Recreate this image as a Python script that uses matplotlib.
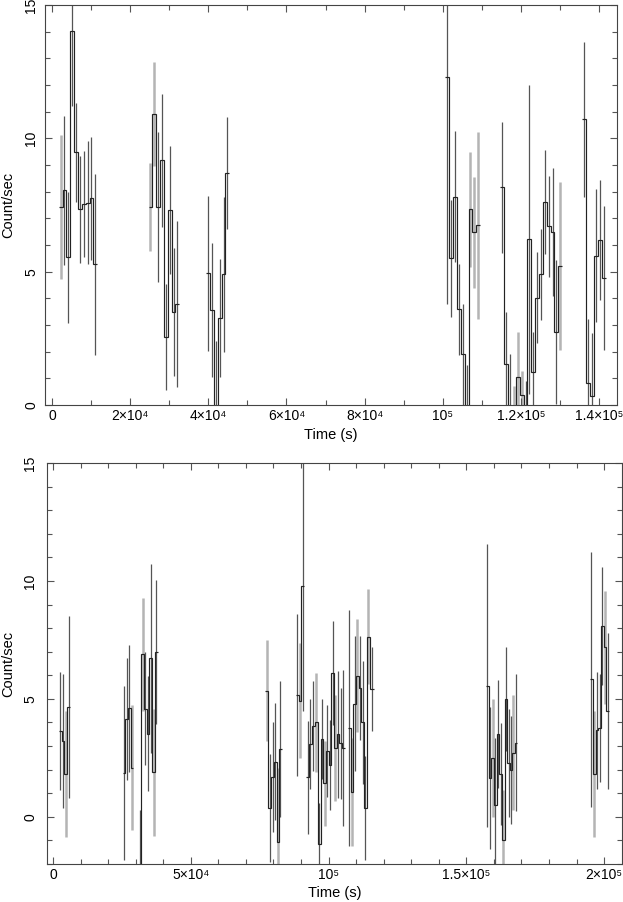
import numpy as np
import matplotlib
matplotlib.use('Agg')
import matplotlib.pyplot as plt
from matplotlib.ticker import MultipleLocator, FixedLocator, FixedFormatter

plt.rcParams['font.family'] = ['Liberation Sans', 'DejaVu Sans']

# ---------------- top light curve ----------------
top_time = [2200, 3200, 4100, 5100, 6100, 7100, 8100, 9100, 10100, 11100,
            25200, 26200, 27200, 28200, 29200, 30200, 31100, 32000,
            39900, 40900, 41900, 42900, 43900, 44900,
            101200, 102200, 103200, 104200, 105200, 106200, 107100, 108100, 109100,
            115200, 116200, 117200, 118200, 119200, 120200, 121200, 122100, 123100,
            124100, 125100, 126100, 127100, 128100, 129100, 130100,
            136200, 137200, 138200, 139200, 140200, 141200]
top_rate = [7.44, 8.05, 5.54, 14.02, 9.47, 7.34, 7.54, 7.59, 7.75, 5.27,
            7.42, 10.9, 7.42, 9.17, 2.55, 7.3, 3.5, 3.79,
            4.94, 3.56, -0.5, 3.26, 4.9, 8.71,
            12.29, 5.5, 7.81, 3.59, 1.9, -0.5, 7.34, 6.47, 6.74,
            8.16, 1.54, -0.4, -0.3, 1.04, 0.37, -0.6, 6.21, 1.25,
            4.02, 4.9, 7.6, 6.7, 6.49, 2.72, 5.2,
            10.71, 0.81, 0.34, 5.6, 6.17, 4.75]
top_err = [2.7, 2.8, 2.45, 2.8, 1.85, 2.0, 2.0, 2.3, 2.3, 3.4,
           1.65, 1.95, 2.8, 2.5, 2.0, 2.4, 2.4, 3.1,
           2.9, 2.5, 2.9, 2.2, 2.9, 2.1,
           8.5, 2.2, 2.45, 1.7, 1.9, 2.0, 2.15, 2.07, 3.5,
           2.45, 1.95, 2.3, 1.0, 1.7, 0.9, 1.5, 5.8, 1.5,
           1.7, 1.7, 1.95, 1.9, 2.4, 2.7, 3.15,
           2.9, 2.4, 2.35, 2.5, 2.25, 2.7]
top_frac = [0.5, 1, 1, 1, 1, 1, 1, 1, 1, 1,
            0.5, 0.5, 1, 1, 1, 1, 1, 1,
            1, 1, 1, 1, 1, 1,
            1, 1, 1, 1, 1, 1, 0.5, 0.5, 0.5,
            1, 1, 1, 0.5, 0.5, 0.5, 1, 1, 1,
            1, 1, 1, 1, 1, 1, 0.5,
            1, 1, 1, 1, 1, 1]

# ---------------- bottom light curve ----------------
bot_time = [2650, 3650, 4650, 5650,
            25700, 26700, 27700, 28700, 31500, 32500, 33500, 34500, 35500, 36500, 37500,
            77540, 78740, 79710, 80680, 81640, 82540,
            88590, 89610, 90580, 92390, 93360, 94320, 95470, 96620, 97580, 98550,
            99520, 100480, 101450, 102420, 103380, 104350, 105320,
            107500, 108450, 109420, 110390, 111350, 112320, 113290, 114490, 115940,
            157610, 158570, 159540, 160510, 161470, 162440, 163410, 164370, 165340,
            166250, 167100, 168060,
            195400, 196400, 197400, 198400, 199400, 200400, 201300]
bot_rate = [3.62, 3.21, 1.81, 4.65,
            1.85, 4.14, 4.6, 2.09, -2.6, 6.89, 4.59, 3.52, 6.72, 1.89, 6.98,
            5.35, 0.38, 1.68, 2.34, -1.05, 2.88,
            5.16, 4.92, 9.8, 1.68, 3.09, 3.86, 4.01, -1.16, 3.3, 1.43,
            2.8, 2.2, 6.09, 2.91, 3.5, 3.12, 2.91,
            3.76, 1.05, 4.79, 5.99, 5.45, 4.01, 0.37, 7.64, 5.42,
            5.55, 1.64, 2.49, 0.51, 3.52, 1.81, -0.97, 4.99, 2.28,
            1.99, 2.72, 3.14,
            5.83, 1.81, 3.66, 3.76, 8.09, 7.19, 4.49]
bot_err = [2.5, 2.85, 2.67, 3.85,
           3.7, 2.6, 2.7, 2.65, 2.9, 2.4, 2.4, 2.44, 4.0, 2.7, 3.05,
           2.15, 2.3, 2.33, 2.47, 3.1, 2.88,
           3.45, 2.43, 5.3, 2.4, 1.9, 1.9, 2.1, 1.75, 1.7, 1.8,
           1.95, 1.9, 2.2, 2.26, 2.7, 2.35, 3.3,
           5.0, 2.3, 2.86, 2.4, 2.2, 2.6, 2.2, 2.0, 1.8,
           6.0, 3.0, 2.5, 2.85, 2.3, 2.15, 2.1, 2.2, 2.3,
           2.3, 2.45, 2.9,
           5.4, 2.67, 2.5, 2.3, 2.5, 2.4, 3.3]
bot_frac = [1, 1, 0.5, 1,
            1, 1, 1, 0.5, 1, 0.5, 1, 1, 1, 0.5, 1,
            0.5, 1, 1, 1, 0.5, 1,
            1, 0.5, 1, 1, 1, 1, 0.5, 1, 1, 0.5,
            1, 1, 1, 0.5, 1, 1, 1,
            1, 0.5, 1, 0.5, 1, 1, 1, 0.5, 1,
            1, 1, 0.5, 1, 1, 1, 0.5, 1, 1,
            1, 0.5, 1,
            1, 0.5, 1, 1, 1, 0.5, 1]

top_xticks = [0, 20000, 40000, 60000, 80000, 100000, 120000, 140000]
top_xlabels = ['0', '2×10⁴', '4×10⁴', '6×10⁴', '8×10⁴', '10⁵', '1.2×10⁵', '1.4×10⁵']
bot_xticks = [0, 50000, 100000, 150000, 200000]
bot_xlabels = ['0', '5×10⁴', '10⁵', '1.5×10⁵', '2×10⁵']
yticks = [0, 5, 10, 15]

DARK = '#555555'
LIGHT = '#b4b4b4'
LINE = '#222222'


def draw_curve(ax, t, r, e, f):
    t = np.asarray(t, float)
    r = np.asarray(r, float)
    e = np.asarray(e, float)
    f = np.asarray(f, float)
    full = f >= 1
    ax.vlines(t[~full], (r - e)[~full], (r + e)[~full], colors=LIGHT, linewidth=1.8, zorder=1)
    ax.vlines(t[full], (r - e)[full], (r + e)[full], colors=DARK, linewidth=0.9, zorder=2)
    dt = np.diff(t)
    width = np.median(dt)
    breaks = np.where(dt > 1.6 * width)[0] + 1
    for seg_t, seg_r in zip(np.split(t, breaks), np.split(r, breaks)):
        if len(seg_t) > 1:
            mids = (seg_t[:-1] + seg_t[1:]) / 2
            edges = np.concatenate([[seg_t[0] - width / 2], mids, [seg_t[-1] + width / 2]])
        else:
            edges = np.array([seg_t[0] - width / 2, seg_t[0] + width / 2])
        ax.stairs(seg_r, edges, baseline=None, color=LINE, linewidth=0.85, zorder=3)


def style(ax, xticks, xlabels, xminor, ypad):
    ax.xaxis.set_major_locator(FixedLocator(xticks))
    ax.xaxis.set_major_formatter(FixedFormatter(xlabels))
    ax.xaxis.set_minor_locator(MultipleLocator(xminor))
    ax.yaxis.set_major_locator(FixedLocator(yticks))
    ax.yaxis.set_minor_locator(MultipleLocator(1))
    ax.tick_params(which='both', direction='in', top=True, right=True,
                   color='#555555', width=0.8)
    ax.tick_params(which='major', length=5)
    ax.tick_params(which='minor', length=3.5)
    ax.tick_params(axis='x', labelsize=10, pad=3)
    ax.tick_params(axis='y', labelsize=10, pad=ypad, labelrotation=90)
    for lbl in ax.get_yticklabels():
        lbl.set_va('center')
    for sp in ax.spines.values():
        sp.set_color('#444444')
        sp.set_linewidth(0.8)
    ax.set_xlabel('Time (s)', fontsize=10.5)
    ax.set_ylabel('Count/sec', fontsize=10.5)


fig = plt.figure(figsize=(6.23, 9.02), dpi=100)
W, H = 623.0, 902.0

ax1 = fig.add_axes([45 / W, 1 - 405 / H, (617 - 45) / W, 400 / H])
draw_curve(ax1, top_time, top_rate, top_err, top_frac)
ax1.set_xlim(-1790, 144600)
ax1.set_ylim(0, 15)
style(ax1, top_xticks, top_xlabels, 10000, 5)
ax1.xaxis.set_label_coords(0.5, -0.058)
ax1.yaxis.set_label_coords(-0.052, 0.5)

ax2 = fig.add_axes([47 / W, 1 - 864 / H, (622 - 47) / W, 401 / H])
draw_curve(ax2, bot_time, bot_rate, bot_err, bot_frac)
ax2.set_xlim(-2200, 206500)
ax2.set_ylim(-2, 15)
style(ax2, bot_xticks, bot_xlabels, 10000, 7)
ax2.xaxis.set_label_coords(0.5, -0.056)
ax2.yaxis.set_label_coords(-0.055, 0.5)

fig.savefig('out.png', dpi=100)
